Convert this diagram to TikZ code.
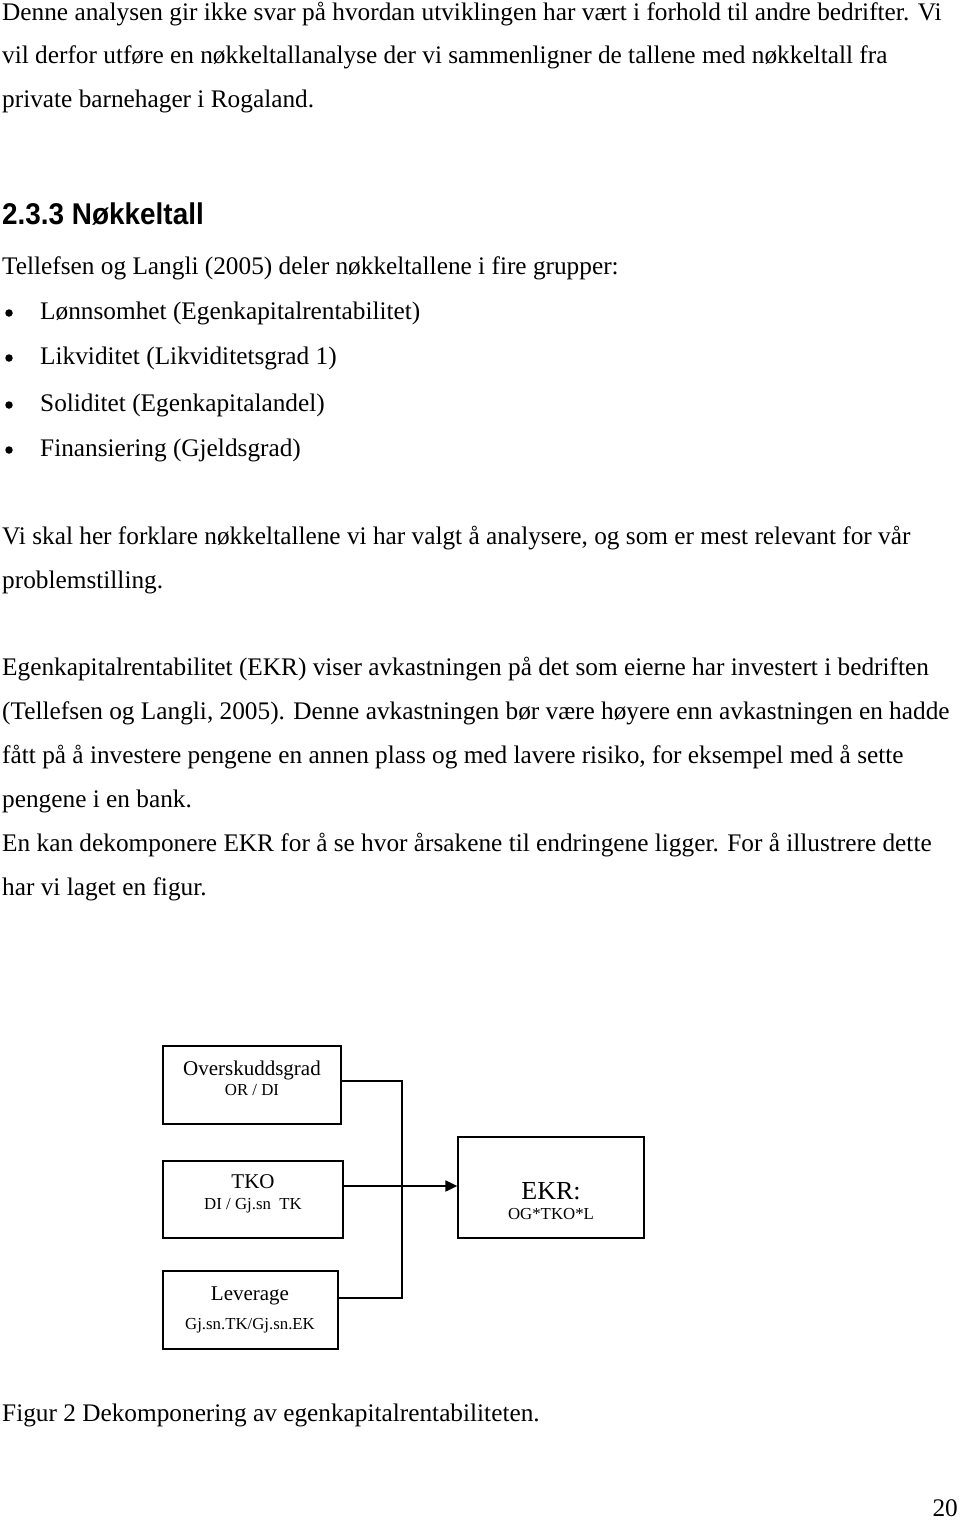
\documentclass[tikz,border=0pt]{standalone}
\usepackage{fontspec}
\setmainfont{Liberation Serif}
\newfontfamily\headfont{Liberation Sans}[FakeStretch=0.93]
\usetikzlibrary{arrows.meta}

\begin{document}
\begin{tikzpicture}[x=1pt,y=-1pt,
    txt/.style={anchor=base west, inner sep=0, font=\fontsize{25.3}{30}\selectfont},
    dot/.style={circle, fill=black, inner sep=0, minimum size=7.5},
    box/.style={draw=black, line width=1.3, inner sep=0},
    boxtxt/.style={anchor=base, inner sep=0, font=\fontsize{21}{26}\selectfont},
    subtxt/.style={anchor=base, inner sep=0, font=\fontsize{16.8}{20}\selectfont}]
    \useasboundingbox[fill=white] (0,0) rectangle (960,1521);

    \node[txt] (l1) at (2,20) {Denne analysen gir ikke svar på hvordan utviklingen har vært i forhold til andre bedrifter. Vi};
    \node[txt] (l2) at (2,63) {vil derfor utføre en nøkkeltallanalyse der vi sammenligner de tallene med nøkkeltall fra};
    \node[txt] (l3) at (2,107) {private barnehager i Rogaland.};

    \node[txt, font=\headfont\bfseries\fontsize{30}{32}\selectfont] (head) at (2,224) {2.3.3 Nøkkeltall};
    \node[txt] (l4) at (2,274) {Tellefsen og Langli (2005) deler nøkkeltallene i fire grupper:};

    \node[dot] (b1) at (9,313) {};
    \node[dot] (b2) at (9,358) {};
    \node[dot] (b3) at (9,405) {};
    \node[dot] (b4) at (9,450) {};
    \node[txt] (i1) at (40,319) {Lønnsomhet (Egenkapitalrentabilitet)};
    \node[txt] (i2) at (40,364) {Likviditet (Likviditetsgrad 1)};
    \node[txt] (i3) at (40,411) {Soliditet (Egenkapitalandel)};
    \node[txt] (i4) at (40,456) {Finansiering (Gjeldsgrad)};

    \node[txt] (l5) at (2,544) {Vi skal her forklare nøkkeltallene vi har valgt å analysere, og som er mest relevant for vår};
    \node[txt] (l6) at (2,588) {problemstilling.};
    \node[txt] (l7) at (2,675) {Egenkapitalrentabilitet (EKR) viser avkastningen på det som eierne har investert i bedriften};
    \node[txt] (l8) at (2,719) {(Tellefsen og Langli, 2005). Denne avkastningen bør være høyere enn avkastningen en hadde};
    \node[txt] (l9) at (2,763) {fått på å investere pengene en annen plass og med lavere risiko, for eksempel med å sette};
    \node[txt] (l10) at (2,807) {pengene i en bank.};
    \node[txt] (l11) at (2,851) {En kan dekomponere EKR for å se hvor årsakene til endringene ligger. For å illustrere dette};
    \node[txt] (l12) at (2,895) {har vi laget en figur.};

    % figur
    \node[box, minimum width=178, minimum height=78] (ovr) at (252,1085) {};
    \node[box, minimum width=180, minimum height=77] (tko) at (253,1199.5) {};
    \node[box, minimum width=175, minimum height=78] (lev) at (250.5,1310) {};
    \node[box, minimum width=186, minimum height=101] (ekr) at (551,1187.5) {};

    \node[boxtxt] (ovr1) at (252,1075) {Overskuddsgrad};
    \node[subtxt] (ovr2) at (252,1095) {OR / DI};
    \node[boxtxt] (tko1) at (253,1188) {TKO};
    \node[subtxt] (tko2) at (253,1209) {DI / Gj.sn\ \ TK};
    \node[boxtxt] (lev1) at (250,1300) {Leverage};
    \node[subtxt] (lev2) at (250,1329) {Gj.sn.TK/Gj.sn.EK};
    \node[boxtxt, font=\fontsize{26}{30}\selectfont] (ekr1) at (551,1199) {EKR:};
    \node[subtxt] (ekr2) at (551,1219) {OG*TKO*L};

    \coordinate (jmid) at (402,1186);
    \coordinate (jbot) at (402,1298);
    \draw[line width=1.2] ([yshift=4pt]ovr.east) -| (jbot) -- ([yshift=12pt]lev.east);
    \draw[line width=1.2] ([yshift=13.5pt]tko.east) -- (jmid);
    \draw[line width=2, -{Triangle[length=12, width=11]}] (jmid) -- (ekr.west |- jmid);

    \node[txt] (cap) at (2,1421) {Figur 2 Dekomponering av egenkapitalrentabiliteten.};
    \node[txt, anchor=base east] (page) at (958,1516) {20};
  \end{tikzpicture}
\end{document}
